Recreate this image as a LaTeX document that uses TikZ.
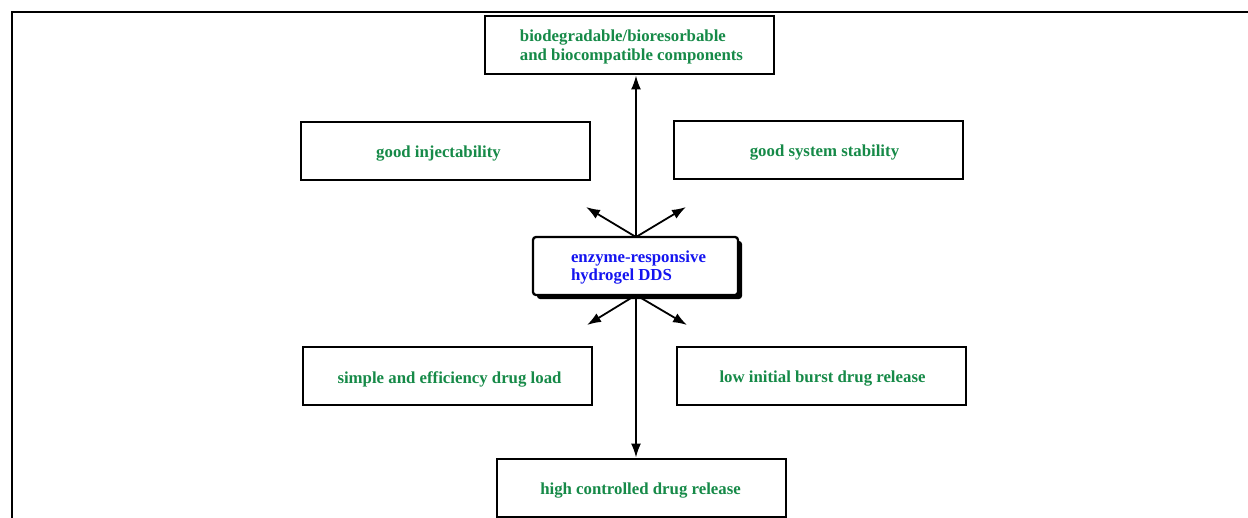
\documentclass[tikz,border=0pt]{standalone}
\usepackage{fontspec}
\setmainfont{Liberation Serif}
\usetikzlibrary{arrows.meta,shadows}
\definecolor{tgreen}{RGB}{22,138,72}
\definecolor{tblue}{RGB}{20,20,240}
\newcommand\shiftxt[3]{\raisebox{#2}[\height][\depth]{\hspace*{#1}#3\hspace*{-#1}}}
\newcommand\twolines[2]{\begin{tabular}{@{}l@{}}#1\\#2\end{tabular}}
\tikzset{
  featbox/.style={draw=black, line width=2.3pt, fill=white, minimum width=289pt, minimum height=58pt,
    inner sep=0pt, font=\fontsize{16.8}{19.5}\selectfont\bfseries, text=tgreen, align=center},
  corebox/.style={draw=black, line width=2.3pt, fill=white, rounded corners=3pt, minimum width=205pt,
    minimum height=58pt, inner sep=0pt, font=\fontsize{16.8}{18.5}\selectfont\bfseries, text=tblue, align=center,
    drop shadow={shadow xshift=4pt, shadow yshift=-4pt, fill=black, opacity=1}},
  link/.style={line width=1.8pt, -{Latex[length=14pt,width=10pt]}},
}
\begin{document}
\begin{tikzpicture}[x=1pt,y=-1pt]
\useasboundingbox (0,0) rectangle (1248,517);
\draw[line width=2.6pt] (12,530) -- (12,12) -- (1260,12);
\node[featbox, line width=2.9pt] (top) at (629.5,45) {\shiftxt{2pt}{-2pt}{\twolines{biodegradable/bioresorbable}{and biocompatible components}}};
\node[featbox, line width=2pt] (inj) at (445.5,151) {\shiftxt{-7pt}{-3pt}{good injectability}};
\node[featbox] (stab) at (818.5,150) {\shiftxt{6pt}{-3pt}{good system stability}};
\node[corebox] (core) at (635.5,266) {\shiftxt{3pt}{-2pt}{\twolines{enzyme-responsive}{hydrogel DDS}}};
\node[featbox, line width=2pt] (load) at (447.5,376) {\shiftxt{2pt}{-3pt}{simple and efficiency drug load}};
\node[featbox] (burst) at (821.5,376) {\shiftxt{1pt}{-3pt}{low initial burst drug release}};
\node[featbox, line width=2.9pt] (ctrl) at (641.5,488) {\shiftxt{-1pt}{-3pt}{high controlled drug release}};
\coordinate (ct) at (636,237);
\coordinate (cb) at (636,295);
\coordinate (ul) at (586,207);
\coordinate (ur) at (686,207);
\coordinate (ll) at (587,325);
\coordinate (lr) at (687,325);
\draw[link] (ct) -- (ct |- top.south);
\draw[link] (ct) -- (ul);
\draw[link] (ct) -- (ur);
\draw[link] (cb) -- (ll);
\draw[link] (cb) -- (lr);
\draw[link] (cb) -- (cb |- ctrl.north);
\end{tikzpicture}
\end{document}
